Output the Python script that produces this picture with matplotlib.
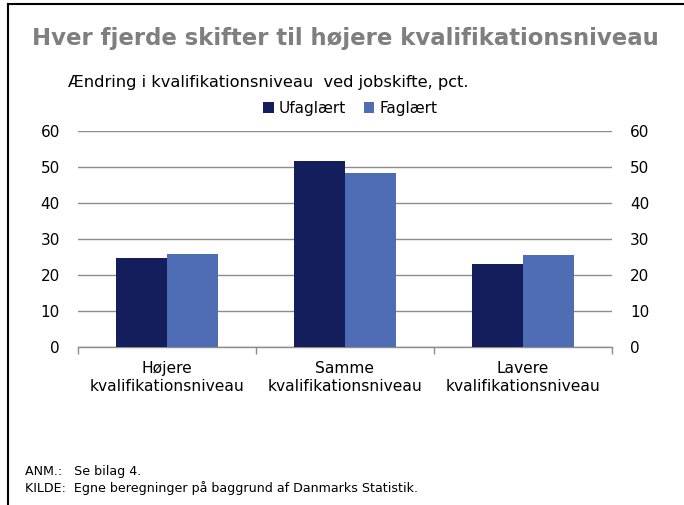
import matplotlib
matplotlib.use('Agg')
import matplotlib.pyplot as plt
import numpy as np

# data
categories = ['Højere\nkvalifikationsniveau', 'Samme\nkvalifikationsniveau', 'Lavere\nkvalifikationsniveau']
series_names = ['Ufaglært', 'Faglært']
ufaglaert = [24.8, 51.6, 23.1]
faglaert = [25.8, 48.2, 25.6]
yticks = [0, 10, 20, 30, 40, 50, 60]

c_dark = '#141E5C'
c_light = '#4F6DB5'
grid_c = '#8C8C8C'

W, H = 684, 505
fig = plt.figure(figsize=(W / 100, H / 100), dpi=100)

# axes placed in pixel coordinates of the reference
left, right, top, bottom = 78, 612, 131, 347
ax = fig.add_axes([left / W, 1 - bottom / H, (right - left) / W, (bottom - top) / H])

x = np.arange(len(categories))
bw = 1 / 3.5
ax.bar(x - bw / 2, ufaglaert, bw, color=c_dark, label=series_names[0], zorder=3)
ax.bar(x + bw / 2, faglaert, bw, color=c_light, label=series_names[1], zorder=3)

ax.set_xlim(-0.5, len(categories) - 0.5)
ax.set_ylim(0, 60)
ax.set_yticks(yticks)
for s in ['top', 'left', 'right']:
    ax.spines[s].set_visible(False)
ax.spines['bottom'].set_color(grid_c)
ax.spines['bottom'].set_linewidth(1)
ax.yaxis.grid(True, color=grid_c, linewidth=1)
ax.set_axisbelow(True)
ax.tick_params(axis='y', length=0, labelsize=11, pad=13, labelright=True, right=False,
               labelcolor='black')
ax.set_xticks(x)
ax.set_xticklabels(categories, fontsize=11.2, linespacing=1.25)
ax.tick_params(axis='x', length=0, pad=10)
ax.set_xticks(np.arange(-0.5, len(categories)), minor=True)
ax.tick_params(axis='x', which='minor', length=5, color=grid_c, width=1)

fig.text(345 / W, 1 - 38 / H, 'Hver fjerde skifter til højere kvalifikationsniveau',
         fontsize=16.4, fontweight='bold', color='#7F7F7F', ha='center', va='center')
fig.text(68 / W, 1 - 82 / H, 'Ændring i kvalifikationsniveau  ved jobskifte, pct.',
         fontsize=11.7, ha='left', va='center')

fig.legend(loc='center', bbox_to_anchor=(350 / W, 1 - 108 / H), ncol=2, frameon=False,
           fontsize=11, handlelength=0.7, handleheight=0.7, handletextpad=0.3,
           columnspacing=1.2)

fig.text(25 / W, 1 - 472 / H, 'ANM.:   Se bilag 4.', fontsize=9.1, ha='left', va='center')
fig.text(25 / W, 1 - 488 / H, 'KILDE:  Egne beregninger på baggrund af Danmarks Statistik.',
         fontsize=9.1, ha='left', va='center')

# frame lines at top and left
fig.add_artist(plt.Line2D([8 / W, 8 / W], [0, 1 - 4 / H], color='black', linewidth=1.5,
                          transform=fig.transFigure))
fig.add_artist(plt.Line2D([8 / W, 1], [1 - 4 / H, 1 - 4 / H], color='black', linewidth=1.5,
                          transform=fig.transFigure))

fig.savefig('out.png', dpi=100, facecolor='white')
